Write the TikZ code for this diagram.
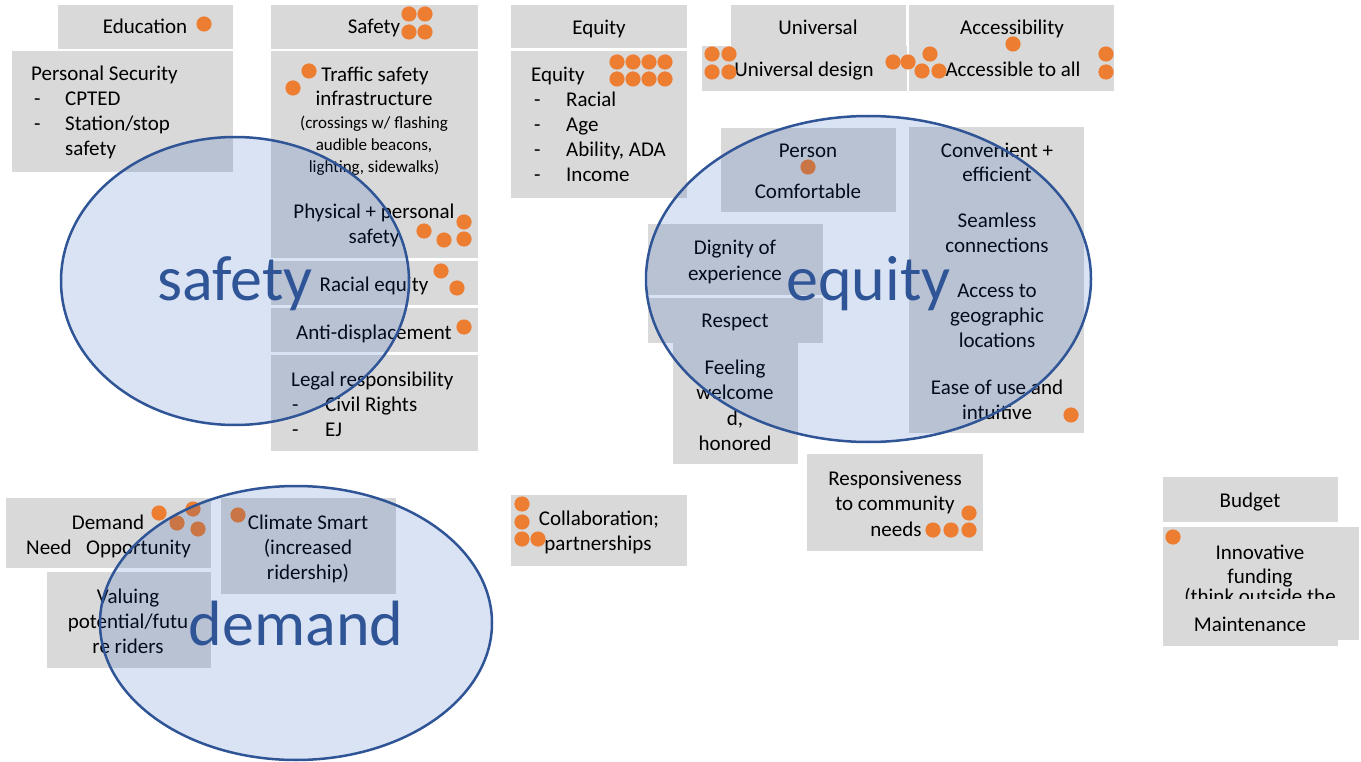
\documentclass[tikz,border=0pt]{standalone}
\usepackage{fontspec}
\setmainfont{Carlito}
\definecolor{boxgrey}{RGB}{217,217,217}
\definecolor{dotorange}{RGB}{237,125,49}
\definecolor{ellblue}{RGB}{47,85,151}
\definecolor{elltint}{RGB}{24,80,180}
\tikzset{
 box/.style={fill=boxgrey},
 dot/.style={fill=dotorange},
 t/.style={font=\fontsize{21}{25}\selectfont, inner sep=0pt, anchor=base},
 tl/.style={t, anchor=base west},
 ts/.style={t, font=\fontsize{17}{21}\selectfont},
 big/.style={font=\fontsize{64}{72}\selectfont, text=ellblue, inner sep=0pt, anchor=base},
 ell/.style={draw=ellblue, line width=2.5pt, fill=elltint, fill opacity=0.16},
}
\begin{document}
\begin{tikzpicture}[x=1pt,y=-1pt]
\useasboundingbox (0,0) rectangle (1361,762);
% ---------- boxes ----------
\fill[box] (58,5) rectangle (233,49);
\fill[box] (12,51) rectangle (233,172);
\fill[box] (271,5) rectangle (478,49);
\fill[box] (271,51) rectangle (478,258);
\fill[box] (271,261) rectangle (478,305);
\fill[box] (271,308) rectangle (478,352);
\fill[box] (271,355) rectangle (478,451);
\fill[box] (511,5) rectangle (687,48);
\fill[box] (511,51) rectangle (687,198);
\fill[box] (731,5) rectangle (906,46);
\fill[box] (702,46) rectangle (907,91);
\fill[box] (909,5) rectangle (1114,91);
\fill[box] (721,128) rectangle (896,212);
\fill[box] (909,127) rectangle (1084,433);
\fill[box] (648,224) rectangle (823,295);
\fill[box] (648,298) rectangle (823,343);
\fill[box] (673,343) rectangle (798,464);
\fill[box] (807,454) rectangle (983,551);
\fill[box] (511,495) rectangle (687,566);
\fill[box] (1163,477) rectangle (1338,522);
\fill[box] (1163,527) rectangle (1359,640);
\fill[box] (6,498) rectangle (211,568);
\fill[box] (221,498) rectangle (396,594);
\fill[box] (47,572) rectangle (211,668);
% ---------- texts ----------
\node[t] (edu) at (145,34) {Education};
\node[tl] (ps1) at (31,81) {Personal Security};
\node[tl] (ps2a) at (34,106) {-};
\node[tl] (ps2) at (65,106) {CPTED};
\node[tl] (ps3a) at (34,131) {-};
\node[tl] (ps3) at (65,131) {Station/stop};
\node[tl] (ps4) at (65,156) {safety};
\node[t] (saf) at (374,34) {Safety};
\node[t] (tr1) at (375,82) {Traffic safety};
\node[t] (tr2) at (374,106) {infrastructure};
\node[ts] (tr3) at (374,129) {(crossings w/ flashing};
\node[ts] (tr4) at (374,151) {audible beacons,};
\node[ts] (tr5) at (374,173) {lighting, sidewalks)};
\node[t] (ph1) at (374,219) {Physical + personal};
\node[t] (ph2) at (374,244) {safety};
\node[t] (req) at (374,292) {Racial equity};
\node[t] (anti) at (374,339) {Anti-displacement};
\node[tl] (lg1) at (291,386) {Legal responsibility};
\node[tl] (lg2a) at (292,411) {-};
\node[tl] (lg2) at (325,411) {Civil Rights};
\node[tl] (lg3a) at (292,436) {-};
\node[tl] (lg3) at (325,436) {EJ};
\node[t] (eqh) at (599,35) {Equity};
\node[tl] (eq1) at (531,82) {Equity};
\node[tl] (eq2a) at (534,107) {-};
\node[tl] (eq2) at (566,107) {Racial};
\node[tl] (eq3a) at (534,132) {-};
\node[tl] (eq3) at (566,132) {Age};
\node[tl] (eq4a) at (534,157) {-};
\node[tl] (eq4) at (566,157) {Ability, ADA};
\node[tl] (eq5a) at (534,182) {-};
\node[tl] (eq5) at (566,182) {Income};
\node[t] (uni) at (818,35) {Universal};
\node[t] (unid) at (804,77) {Universal design};
\node[t] (acc) at (1012,35) {Accessibility};
\node[t] (acca) at (1013,77) {Accessible to all};
\node[t] (pe1) at (808,158) {Person};
\node[t] (pe2) at (808,199) {Comfortable};
\node[t] (co1) at (997,158) {Convenient +};
\node[t] (co2) at (997,182) {efficient};
\node[t] (co3) at (997,228) {Seamless};
\node[t] (co4) at (997,253) {connections};
\node[t] (co5) at (997,298) {Access to};
\node[t] (co6) at (997,323) {geographic};
\node[t] (co7) at (997,348) {locations};
\node[t] (co8) at (997,394) {Ease of use and};
\node[t] (co9) at (997,419) {intuitive};
\node[t] (di1) at (735,255) {Dignity of};
\node[t] (di2) at (735,280) {experience};
\node[t] (resp) at (735,327) {Respect};
\node[t] (fe1) at (735,374) {Feeling};
\node[t] (fe2) at (735,399) {welcome};
\node[t] (fe3) at (735,425) {d,};
\node[t] (fe4) at (735,450) {honored};
\node[t] (rs1) at (895,485) {Responsiveness};
\node[t] (rs2) at (895,510) {to community};
\node[t] (rs3) at (896,536) {needs};
\node[t] (col1) at (599,525) {Collaboration;};
\node[t] (col2) at (598,550) {partnerships};
\node[t] (bud) at (1250,507) {Budget};
\node[t] (in1) at (1260,559) {Innovative};
\node[t] (in2) at (1260,583) {funding};
\node[t] (in3) at (1260,603) {(think outside the};
\fill[box] (1163,599) rectangle (1338,646);
\node[t] (mnt) at (1250,631) {Maintenance};
\node[t] (dm1) at (108,529) {Demand};
\node[tl] (dm2) at (26,554) {Need};
\node[tl] (dm3) at (86,554) {Opportunity};
\node[t] (cl1) at (308,529) {Climate Smart};
\node[t] (cl2) at (308,554) {(increased};
\node[t] (cl3) at (308,579) {ridership)};
\node[t] (va1) at (128,603) {Valuing};
\node[t] (va2) at (128,628) {potential/futu};
\node[t] (va3) at (128,653) {re riders};
% ---------- dots ----------
\foreach \x/\y in {204/24, 409/14,425/14,409/32,425/32, 309/71,293/88,
  464/222,424/231,444/240,464/239, 441/271,457/288, 464/327,
  617/62,633/62,649/62,665/62,617/79,633/79,649/79,665/79,
  712/54,729/54,712/72,729/72, 893/62,908/62, 1013/44,
  930/54,922/71,939/71, 1106/54,1106/72,
  808/167, 1071/415,
  969/513,933/530,951/530,969/530,
  522/504,522/522,522/539,538/539,
  1173/537,
  159/513,193/509,177/523,198/529, 238/515}
  \fill[dot] (\x,\y) circle[radius=7.6];
% ---------- ellipses ----------
\draw[ell] (235,281) ellipse[x radius=174, y radius=144];
\draw[ell] (868.5,279) ellipse[x radius=222.5, y radius=163];
\draw[ell] (296,623) ellipse[x radius=196, y radius=137];
\node[big] (lsaf) at (235,301) {safety};
\node[big] (lequ) at (868.5,301) {equity};
\node[big] (ldem) at (296,645) {demand};
\end{tikzpicture}
\end{document}
